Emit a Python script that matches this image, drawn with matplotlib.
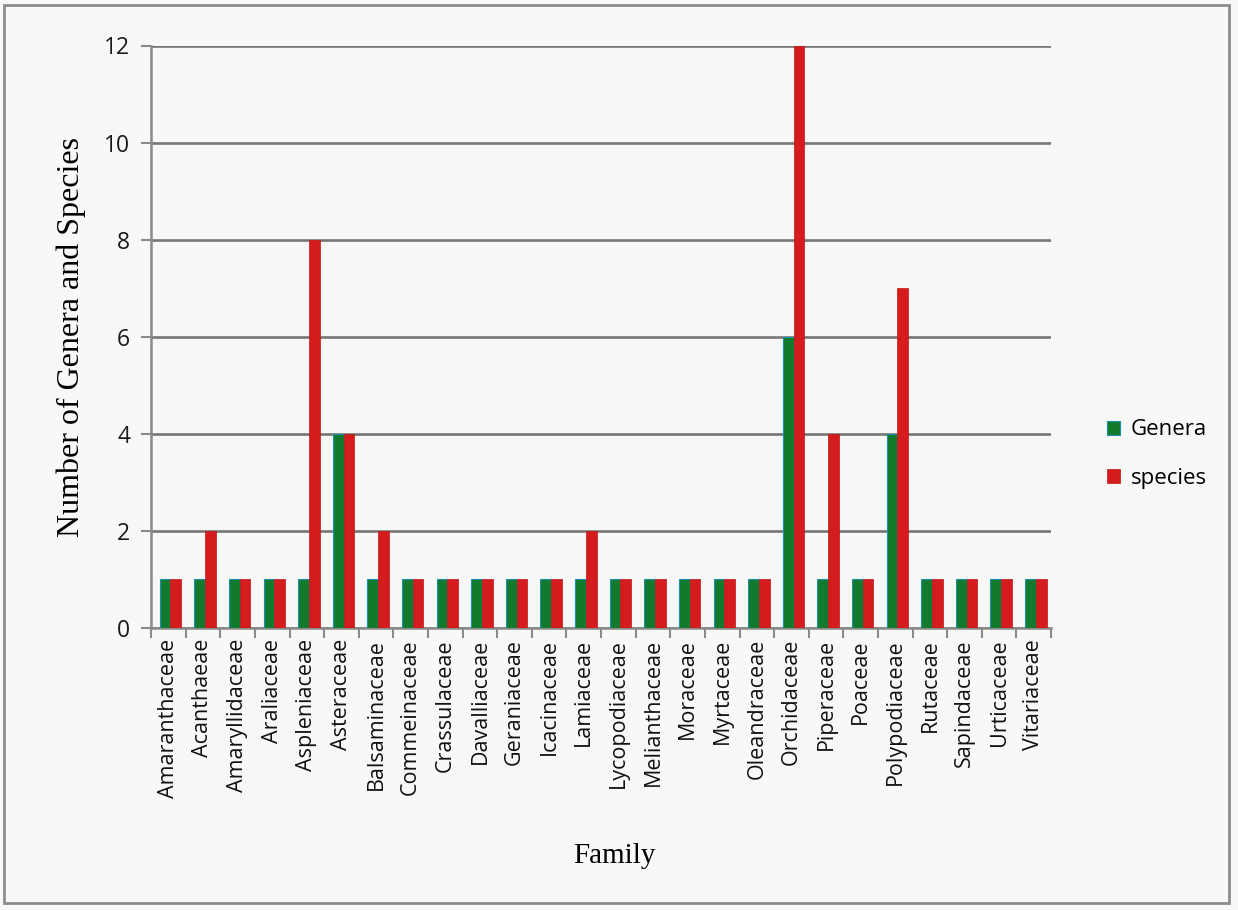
import numpy as np
import matplotlib.pyplot as plt
from matplotlib.patches import Rectangle

families = ['Amaranthaceae', 'Acanthaeae', 'Amaryllidaceae', 'Araliaceae', 'Aspleniaceae',
            'Asteraceae', 'Balsaminaceae', 'Commeinaceae', 'Crassulaceae', 'Davalliaceae',
            'Geraniaceae', 'Icacinaceae', 'Lamiaceae', 'Lycopodiaceae', 'Melianthaceae',
            'Moraceae', 'Myrtaceae', 'Oleandraceae', 'Orchidaceae', 'Piperaceae',
            'Poaceae', 'Polypodiaceae', 'Rutaceae', 'Sapindaceae', 'Urticaceae', 'Vitariaceae']
genera = [1, 1, 1, 1, 1, 4, 1, 1, 1, 1, 1, 1, 1, 1, 1, 1, 1, 1, 6, 1, 1, 4, 1, 1, 1, 1]
species = [1, 2, 1, 1, 8, 4, 2, 1, 1, 1, 1, 1, 2, 1, 1, 1, 1, 1, 12, 4, 1, 7, 1, 1, 1, 1]
yticks = [0, 2, 4, 6, 8, 10, 12]

bg = '#f8f8f6'
fig = plt.figure(figsize=(12.38, 9.10), dpi=100, facecolor=bg)
ax = fig.add_axes([0.122, 0.310, 0.727, 0.640])
ax.set_facecolor(bg)

x = np.arange(len(families))
w = 0.31
b1 = ax.bar(x - w / 2 + 0.06, genera, w, color='#137a2c', edgecolor='#1c8fb0', linewidth=0.8,
            label='Genera', zorder=3)
b2 = ax.bar(x + w / 2 + 0.06, species, w, color='#d41c1c', edgecolor='#c01515', linewidth=0.5,
            label='species', zorder=3)

ax.set_xlim(-0.5, len(families) - 0.5)
ax.set_ylim(0, 12)
ax.set_yticks(yticks)
ax.yaxis.grid(True, color='#767676', linewidth=1.9)
ax.set_axisbelow(True)
for s in ['top', 'right']:
    ax.spines[s].set_visible(False)
ax.spines['left'].set_color('#8a8a8a')
ax.spines['left'].set_linewidth(1.8)
ax.spines['bottom'].set_color('#8a8a8a')
ax.spines['bottom'].set_linewidth(1.8)

ax.set_xticks(x)
ax.set_xticklabels(families, rotation=90, fontsize=15.5, family='Open Sans', color='#111111')
ax.set_xticks(np.arange(-0.5, len(families)), minor=True)
ax.tick_params(axis='x', which='major', length=0, pad=8)
ax.tick_params(axis='x', which='minor', length=7, width=1.5, color='#8a8a8a')
ax.tick_params(axis='y', length=7, width=1.5, color='#8a8a8a', pad=8)
for t in ax.get_yticklabels():
    t.set_fontsize(16.5)
    t.set_family('Open Sans')
    t.set_color('#1a1a1a')

ax.set_ylabel('Number of Genera and Species', family='Liberation Serif', fontsize=23,
              labelpad=13)
ax.set_xlabel('Family', family='Liberation Serif', fontsize=21)
ax.xaxis.set_label_coords(0.515, -0.37)

leg = ax.legend(handles=[b1, b2], loc='center left', bbox_to_anchor=(1.04, 0.298),
                frameon=False, handlelength=0.6, handleheight=0.6, handletextpad=0.45,
                labelspacing=1.25, prop={'family': 'Open Sans', 'size': 16})

# outer frame of the chart area
fig.patches.append(Rectangle((0.003, 0.008), 0.99, 0.986, transform=fig.transFigure,
                             fill=False, edgecolor='#8c8c8c', linewidth=2))

fig.savefig('out.png', dpi=100, facecolor=bg)
